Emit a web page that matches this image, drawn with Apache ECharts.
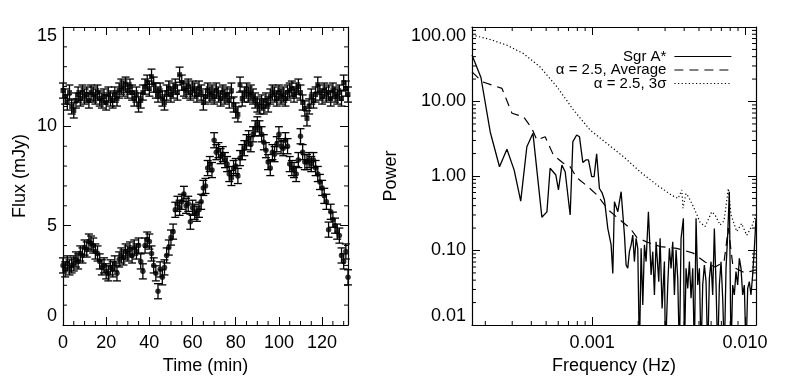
<!DOCTYPE html>
<html>
<head>
<meta charset="utf-8">
<script src="https://cdn.jsdelivr.net/npm/echarts@6/dist/echarts.min.js"></script>
<style>
  html, body { margin: 0; padding: 0; background: #fff; }
  #chart { width: 795px; height: 391px; }
</style>
</head>
<body>
<div id="chart"></div>
<script>
// light curves, one sample per minute
const timeMin = Array.from({ length: 133 }, (_, i) => i);
const fluxUpper = [
  11.8, 11.5, 11.2, 11.7, 11.0, 10.8, 11.3, 11.6, 11.4, 11.7,
  11.5, 11.6, 11.3, 11.7, 11.6, 11.5, 11.7, 11.4, 11.3, 11.5,
  11.2, 11.6, 11.4, 11.3, 11.6, 11.4, 11.8, 12.0, 11.9, 12.1,
  11.8, 12.0, 11.7, 11.4, 11.6, 11.1, 11.3, 11.7, 12.0, 12.2,
  11.9, 12.5, 12.1, 11.8, 11.6, 11.8, 11.4, 11.2, 11.7, 11.9,
  11.6, 11.8, 12.0, 11.7, 12.6, 12.2, 11.9, 11.8, 12.0, 11.7,
  11.9, 11.8, 11.6, 11.9, 11.7, 11.2, 11.5, 11.8, 11.6, 11.7,
  11.5, 11.8, 11.6, 11.4, 11.7, 11.5, 11.6, 11.3, 11.8, 11.1,
  10.8, 10.6, 12.1, 11.4, 11.6, 11.8, 11.6, 11.7, 11.5, 11.3,
  11.1, 11.0, 11.2, 11.0, 11.3, 11.1, 11.5, 11.7, 11.6, 11.4,
  11.7, 11.5, 11.6, 11.4, 11.7, 11.8, 11.9, 11.6, 11.8, 12.0,
  11.7, 11.2, 10.9, 10.4, 11.0, 11.5, 11.3, 11.6, 12.1, 11.7,
  11.5, 11.8, 11.6, 11.7, 11.4, 11.8, 11.6, 11.5, 11.7, 11.4,
  12.2, 11.9, 11.6
];
const fluxLower = [
  3.0, 2.8, 3.1, 2.9, 3.0, 3.1, 3.3, 3.2, 3.6, 3.5,
  3.9, 3.8, 4.2, 4.1, 4.0, 3.7, 3.6, 3.2, 2.9, 3.0,
  2.7, 2.6, 2.9, 2.8, 3.1, 2.6, 3.3, 3.5, 3.4, 3.7,
  3.6, 3.8, 3.5, 3.9, 3.7, 4.0, 3.2, 2.7, 4.0, 4.3,
  4.2, 3.6, 3.0, 2.6, 1.7, 2.8, 2.4, 2.9, 3.5, 3.9,
  4.4, 4.7, 5.8, 6.1, 5.9, 6.2, 6.6, 6.0, 6.1, 5.2,
  5.9, 5.7, 5.6, 5.8, 6.2, 6.9, 7.0, 7.9, 8.1, 7.8,
  9.3, 8.7, 8.8, 8.5, 8.6, 8.3, 8.1, 7.6, 7.4, 7.9,
  8.0, 7.5, 8.4, 8.7, 8.9, 9.2, 9.4, 9.1, 9.6, 9.9,
  10.1, 9.9, 9.6, 9.2, 8.8, 8.2, 7.9, 8.7, 8.6, 9.1,
  9.6, 9.0, 8.9, 9.3, 9.0, 8.1, 7.9, 7.8, 7.6, 8.3,
  9.5, 8.7, 8.2, 8.2, 8.3, 8.1, 8.3, 7.9, 7.6, 7.2,
  6.9, 6.5, 6.2, 4.8, 5.7, 5.3, 5.0, 4.7, 4.5, 3.5,
  3.2, 3.7, 2.4
];
const fluxErr = 0.38;

// power spectra [frequency Hz, power]
const sgrPsd = [
  [1.637e-4, 42], [1.873e-4, 21], [2.154e-4, 3.9], [2.477e-4, 1.33], [2.77e-4, 2.28],
  [3.09e-4, 1.2], [3.41e-4, 0.46], [3.74e-4, 2.47], [4.10e-4, 3.74], [4.69e-4, 0.28],
  [5.06e-4, 0.33], [5.31e-4, 1.27], [5.79e-4, 1.03], [6.02e-4, 0.65], [6.34e-4, 1.4],
  [6.66e-4, 1.14], [7.18e-4, 0.3], [7.48e-4, 2.9], [7.92e-4, 3.55], [8.26e-4, 3.37],
  [8.69e-4, 1.52], [9.14e-4, 1.65], [9.46e-4, 1.65], [9.93e-4, 0.98], [1.03e-3, 0.98],
  [1.07e-3, 1.98], [1.116e-3, 0.68], [1.16e-3, 0.6], [1.204e-3, 0.476], [1.266e-3, 0.198],
  [1.331e-3, 0.119], [1.365e-3, 0.049], [1.399e-3, 0.452], [1.472e-3, 0.332], [1.547e-3, 0.616],
  [1.627e-3, 0.161], [1.668e-3, 0.064], [1.71e-3, 0.058], [1.753e-3, 0.0965], [1.8e-3, 0.12],
  [1.844e-3, 0.161], [1.89e-3, 0.071], [1.939e-3, 0.146], [1.988e-3, 0.107], [2.039e-3, 0.004],
  [2.091e-3, 0.107], [2.144e-3, 0.0186], [2.198e-3, 0.119], [2.254e-3, 0.071], [2.334e-3, 0.332],
  [2.43e-3, 0.047], [2.492e-3, 0.0965], [2.555e-3, 0.0253], [2.62e-3, 0.131], [2.728e-3, 0.038],
  [2.783e-3, 0.146], [2.868e-3, 0.0167], [2.97e-3, 0.071], [3.015e-3, 0.004], [3.123e-3, 0.0344],
  [3.202e-3, 0.107], [3.283e-3, 0.0576], [3.367e-3, 0.131], [3.452e-3, 0.0253], [3.54e-3, 0.102],
  [3.63e-3, 0.0423], [3.722e-3, 0.004], [3.816e-3, 0.146], [3.953e-3, 0.27], [4.013e-3, 0.004],
  [4.115e-3, 0.0576], [4.219e-3, 0.031], [4.327e-3, 0.071], [4.437e-3, 0.0228], [4.55e-3, 0.0576],
  [4.665e-3, 0.004], [4.783e-3, 0.27], [4.905e-3, 0.0344], [5.029e-3, 0.0576], [5.157e-3, 0.004],
  [5.288e-3, 0.0344], [5.422e-3, 0.0639], [5.56e-3, 0.0382], [5.701e-3, 0.004], [5.846e-3, 0.0423],
  [5.994e-3, 0.0708], [6.146e-3, 0.0253], [6.302e-3, 0.198], [6.463e-3, 0.0344], [6.627e-3, 0.004],
  [6.795e-3, 0.0344], [6.967e-3, 0.0708], [7.145e-3, 0.0228], [7.326e-3, 0.004], [7.512e-3, 0.0576],
  [7.702e-3, 0.161], [7.898e-3, 0.616], [8.098e-3, 0.004], [8.304e-3, 0.0344], [8.514e-3, 0.0253],
  [8.73e-3, 0.052], [8.952e-3, 0.0344], [9.183e-3, 0.0785], [9.417e-3, 0.0576], [9.656e-3, 0.0253],
  [9.899e-3, 0.0344], [1.015e-2, 0.004], [1.041e-2, 0.031], [1.067e-2, 0.0382], [1.094e-2, 0.0253],
  [1.122e-2, 0.0469], [1.151e-2, 0.107], [1.18e-2, 0.27]
];
const avgPsd = [
  [1.637e-4, 25], [1.90e-4, 18.5], [2.57e-4, 15], [2.99e-4, 6.95], [3.556e-4, 6.25],
  [4.03e-4, 4.37], [4.35e-4, 3.04], [4.93e-4, 3.37], [5.58e-4, 1.91], [6.49e-4, 1.48],
  [7.18e-4, 1.33], [7.94e-4, 0.95], [9.23e-4, 0.74], [1.073e-3, 0.56], [1.185e-3, 0.43],
  [1.278e-3, 0.35], [1.524e-3, 0.256], [1.771e-3, 0.2], [1.959e-3, 0.15], [2.278e-3, 0.13],
  [2.78e-3, 0.113], [3.58e-3, 0.107], [4.59e-3, 0.092], [5.48e-3, 0.07], [6.37e-3, 0.06],
  [7.29e-3, 0.07], [7.78e-3, 0.2], [8.35e-3, 0.06], [1.0e-2, 0.05], [1.18e-2, 0.055]
];
const sigmaPsd = [
  [1.637e-4, 78], [2.154e-4, 68], [2.77e-4, 57], [3.556e-4, 44], [4.57e-4, 29],
  [5.88e-4, 15.8], [7.55e-4, 7.7], [9.70e-4, 4.14], [1.247e-3, 2.75], [1.602e-3, 1.82],
  [2.06e-3, 1.14], [2.65e-3, 0.76], [3.32e-3, 0.55], [3.65e-3, 0.5], [3.86e-3, 0.65],
  [3.93e-3, 0.37], [4.11e-3, 0.58], [4.26e-3, 0.53], [4.59e-3, 0.39], [5.08e-3, 0.24],
  [5.48e-3, 0.21], [6.06e-3, 0.33], [6.37e-3, 0.3], [6.87e-3, 0.22], [7.29e-3, 0.25],
  [7.78e-3, 0.68], [8.1e-3, 0.3], [8.83e-3, 0.18], [9.5e-3, 0.23], [1.026e-2, 0.16],
  [1.107e-2, 0.21], [1.18e-2, 0.3]
];

// minor tick positions
const timeMinor = [5, 10, 15, 25, 30, 35, 45, 50, 55, 65, 70, 75, 85, 90, 95, 105, 110, 115, 125, 130];
const fluxMinor = [1, 2, 3, 4, 6, 7, 8, 9, 11, 12, 13, 14];
const freqMinor = [2e-4, 3e-4, 4e-4, 5e-4, 6e-4, 7e-4, 8e-4, 9e-4, 2e-3, 3e-3, 4e-3, 5e-3, 6e-3, 7e-3, 8e-3, 9e-3];
const powerMinor = [0.02, 0.03, 0.04, 0.05, 0.06, 0.07, 0.08, 0.09, 0.2, 0.3, 0.4, 0.5, 0.6, 0.7, 0.8, 0.9,
  2, 3, 4, 5, 6, 7, 8, 9, 20, 30, 40, 50, 60, 70, 80, 90];

const FONT = '"Liberation Sans", Arial, Helvetica, sans-serif';
const INK = '#000';

function errorBars(params, api) {
  const t = api.value(0), v = api.value(1), e = api.value(2);
  const lo = api.coord([t, v - e]);
  const hi = api.coord([t, v + e]);
  const w = 4;
  const st = { stroke: INK, lineWidth: 1.3 };
  return {
    type: 'group',
    children: [
      { type: 'line', shape: { x1: lo[0], y1: lo[1], x2: hi[0], y2: hi[1] }, style: st },
      { type: 'line', shape: { x1: lo[0] - w, y1: lo[1], x2: lo[0] + w, y2: lo[1] }, style: st },
      { type: 'line', shape: { x1: hi[0] - w, y1: hi[1], x2: hi[0] + w, y2: hi[1] }, style: st }
    ]
  };
}

function minorTicks(params, api) {
  const cs = params.coordSys;
  const len = 4;
  const st = { stroke: INK, lineWidth: 1 };
  const p = api.coord([api.value(0), api.value(1)]);
  if (api.value(2) === 0) {
    const x = p[0];
    return { type: 'group', children: [
      { type: 'line', shape: { x1: x, y1: cs.y + cs.height, x2: x, y2: cs.y + cs.height - len }, style: st },
      { type: 'line', shape: { x1: x, y1: cs.y, x2: x, y2: cs.y + len }, style: st }
    ] };
  }
  const y = p[1];
  return { type: 'group', children: [
    { type: 'line', shape: { x1: cs.x, y1: y, x2: cs.x + len, y2: y }, style: st },
    { type: 'line', shape: { x1: cs.x + cs.width, y1: y, x2: cs.x + cs.width - len, y2: y }, style: st }
  ] };
}

const isPow10 = v => Math.abs(Math.log10(v) - Math.round(Math.log10(v))) < 1e-6;

const labelStyle = { color: INK, fontFamily: FONT, fontSize: 18 };
const frame = { show: true, onZero: false, lineStyle: { color: INK, width: 1.2 } };
const majorTick = { show: true, inside: true, length: 8, lineStyle: { color: INK, width: 1 } };

const chart = echarts.init(document.getElementById('chart'));
chart.setOption({
  animation: false,
  backgroundColor: '#fff',
  grid: [
    { left: 63, top: 27, width: 285, height: 298 },
    { left: 472, top: 27, width: 284, height: 298 }
  ],
  legend: {
    orient: 'vertical',
    align: 'right',
    right: 58,
    top: 44,
    itemWidth: 57,
    itemHeight: 15,
    itemGap: -1.5,
    data: ['Sgr A*', 'α = 2.5, Average', 'α = 2.5, 3σ'],
    itemStyle: { color: 'rgba(0,0,0,0)', borderWidth: 0 },
    lineStyle: { width: 1.2, color: INK },
    textStyle: { color: INK, fontFamily: FONT, fontSize: 15, lineHeight: 15, padding: [0, 3, 0, 0] }
  },
  xAxis: [
    {
      gridIndex: 0, type: 'value', min: 0, max: 132, interval: 20,
      name: 'Time (min)', nameLocation: 'middle', nameGap: 28, nameTextStyle: labelStyle,
      axisLine: frame, axisTick: majorTick, splitLine: { show: false },
      axisLabel: Object.assign({ margin: 9, showMaxLabel: false }, labelStyle)
    },
    {
      gridIndex: 0, type: 'value', min: 0, max: 132, interval: 20, position: 'top',
      axisLine: frame, axisTick: majorTick, splitLine: { show: false }, axisLabel: { show: false }
    },
    {
      gridIndex: 1, type: 'log', min: 1.637e-4, max: 1.18e-2,
      name: 'Frequency (Hz)', nameLocation: 'middle', nameGap: 28, nameTextStyle: labelStyle,
      axisLine: frame, axisTick: majorTick, splitLine: { show: false },
      axisLabel: Object.assign({
        margin: 9, showMinLabel: false, showMaxLabel: false,
        formatter: v => (isPow10(v) ? v.toFixed(3) : '')
      }, labelStyle)
    },
    {
      gridIndex: 1, type: 'log', min: 1.637e-4, max: 1.18e-2, position: 'top',
      axisLine: frame, axisTick: majorTick, splitLine: { show: false }, axisLabel: { show: false }
    }
  ],
  yAxis: [
    {
      gridIndex: 0, type: 'value', min: 0, max: 15, interval: 5,
      name: 'Flux (mJy)', nameLocation: 'middle', nameGap: 34, nameTextStyle: labelStyle,
      axisLine: frame, axisTick: majorTick, splitLine: { show: false },
      axisLabel: Object.assign({ margin: 6, verticalAlignMinLabel: 'bottom', verticalAlignMaxLabel: 'top' }, labelStyle)
    },
    {
      gridIndex: 0, type: 'value', min: 0, max: 15, interval: 5, position: 'right',
      axisLine: frame, axisTick: majorTick, splitLine: { show: false }, axisLabel: { show: false }
    },
    {
      gridIndex: 1, type: 'log', min: 0.01, max: 100,
      name: 'Power', nameLocation: 'middle', nameGap: 72, nameTextStyle: labelStyle,
      axisLine: frame, axisTick: majorTick, splitLine: { show: false },
      axisLabel: Object.assign({
        margin: 6, verticalAlignMinLabel: 'bottom', verticalAlignMaxLabel: 'top',
        formatter: v => v.toFixed(2)
      }, labelStyle)
    },
    {
      gridIndex: 1, type: 'log', min: 0.01, max: 100, position: 'right',
      axisLine: frame, axisTick: majorTick, splitLine: { show: false }, axisLabel: { show: false }
    }
  ],
  series: [
    {
      type: 'custom', xAxisIndex: 0, yAxisIndex: 0, renderItem: errorBars, silent: true,
      data: timeMin.map((t, i) => [t, fluxUpper[i], fluxErr])
    },
    {
      type: 'custom', xAxisIndex: 0, yAxisIndex: 0, renderItem: errorBars, silent: true,
      data: timeMin.map((t, i) => [t, fluxLower[i], fluxErr])
    },
    {
      type: 'scatter', xAxisIndex: 0, yAxisIndex: 0, symbol: 'rect', symbolSize: 5,
      itemStyle: { color: INK }, data: timeMin.map((t, i) => [t, fluxUpper[i]])
    },
    {
      type: 'scatter', xAxisIndex: 0, yAxisIndex: 0, symbol: 'circle', symbolSize: 5.5,
      itemStyle: { color: INK }, data: timeMin.map((t, i) => [t, fluxLower[i]])
    },
    {
      type: 'custom', xAxisIndex: 0, yAxisIndex: 0, renderItem: minorTicks, silent: true, clip: false,
      data: timeMinor.map(t => [t, 1, 0]).concat(fluxMinor.map(v => [1, v, 1]))
    },
    {
      name: 'Sgr A*', type: 'line', xAxisIndex: 2, yAxisIndex: 2, symbol: 'none', clip: true,
      lineStyle: { color: INK, width: 1.3, type: 'solid' }, itemStyle: { color: INK },
      data: sgrPsd
    },
    {
      name: 'α = 2.5, Average', type: 'line', xAxisIndex: 2, yAxisIndex: 2, symbol: 'none', clip: true,
      lineStyle: { color: INK, width: 1.2, type: [9, 6] }, itemStyle: { color: INK },
      data: avgPsd
    },
    {
      name: 'α = 2.5, 3σ', type: 'line', xAxisIndex: 2, yAxisIndex: 2, symbol: 'none', clip: true,
      lineStyle: { color: INK, width: 1.2, type: [1.2, 2.4] }, itemStyle: { color: INK },
      data: sigmaPsd
    },
    {
      type: 'custom', xAxisIndex: 2, yAxisIndex: 2, renderItem: minorTicks, silent: true, clip: false,
      data: freqMinor.map(f => [f, 1, 0]).concat(powerMinor.map(v => [1e-3, v, 1]))
    }
  ]
});
</script>
</body>
</html>
